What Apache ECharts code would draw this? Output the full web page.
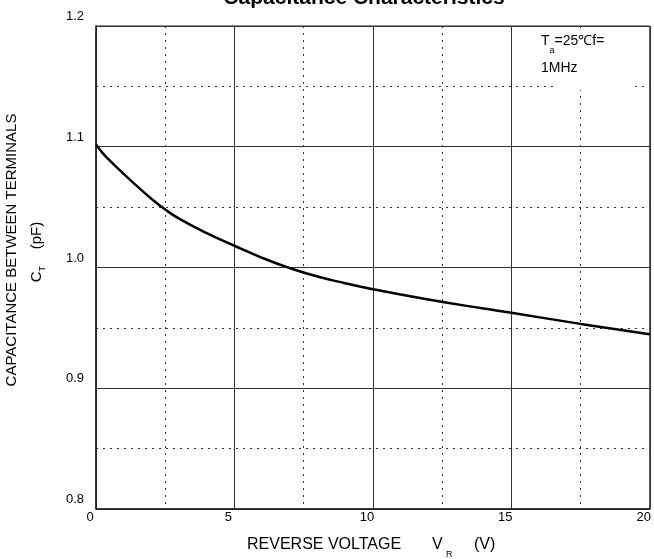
<!DOCTYPE html>
<html><head><meta charset="utf-8">
<script src="https://cdn.jsdelivr.net/npm/echarts@6/dist/echarts.min.js"></script>
<style>html,body{margin:0;padding:0;background:#fff}#c{width:654px;height:559px}</style>
</head><body><div id="c"></div>
<script>
var voltage = [0, 0.25, 0.5, 1, 1.5, 2, 2.5, 3, 4, 5, 6, 7, 8, 9, 10, 12, 14, 15, 17.5, 20];
var capacitance = [1.102, 1.0945, 1.0885, 1.0775, 1.067, 1.057, 1.048, 1.0405, 1.0285, 1.018, 1.008, 0.9995, 0.9925, 0.987, 0.982, 0.9735, 0.966, 0.9625, 0.9533, 0.9447];
var xTicks = [0, 5, 10, 15, 20];
var yTicks = [0.8, 0.9, 1.0, 1.1, 1.2];
var titleText = 'Capacitance Characteristics';

var FONT = '"Liberation Sans", Arial, sans-serif';
var chart = echarts.init(document.getElementById('c'), null, {renderer: 'canvas'});
var pts = voltage.map(function (v, i) { return [v, capacitance[i]]; });
chart.setOption({
  animation: false,
  backgroundColor: '#fff',
  grid: {left: 96, right: 1, top: 26, bottom: 50, show: true, borderColor: '#222', borderWidth: 1},
  xAxis: {
    type: 'value', min: 0, max: 20, interval: 5,
    axisLine: {show: true, lineStyle: {color: '#222', width: 1.5}},
    axisTick: {show: false},
    axisLabel: {fontFamily: FONT, fontSize: 13, color: '#000', margin: 2, padding: [0, 12, 0, 0],
      formatter: function (v) { return xTicks.indexOf(v) >= 0 ? String(v) : ''; }},
    splitLine: {show: true, lineStyle: {color: '#333', width: 1}},
    minorTick: {show: false, splitNumber: 2},
    minorSplitLine: {show: true, lineStyle: {color: '#333', type: [2, 5], width: 1}}
  },
  yAxis: {
    type: 'value', min: 0.8, max: 1.2, interval: 0.1,
    axisLine: {show: true, lineStyle: {color: '#222', width: 1.5}},
    axisTick: {show: false},
    axisLabel: {fontFamily: FONT, fontSize: 13, color: '#000', margin: 12, verticalAlign: 'bottom', padding: [0, 0, 3, 0],
      formatter: function (v) { var r = Math.round(v * 10) / 10; return yTicks.indexOf(r) >= 0 ? r.toFixed(1) : ''; }},
    splitLine: {show: true, lineStyle: {color: '#333', width: 1}},
    minorTick: {show: false, splitNumber: 2},
    minorSplitLine: {show: true, lineStyle: {color: '#333', type: [2, 5], width: 1}}
  },
  graphic: [
    {type: 'text', x: 364, y: -2, z: 11, style: {
      text: titleText, align: 'center', verticalAlign: 'middle', fill: '#000', font: 'bold 21px ' + FONT
    }},
    {type: 'rect', shape: {x: 555, y: 32, width: 80, height: 58}, style: {fill: '#fff'}, z: 10},
    {type: 'text', x: 541, y: 31, z: 11, style: {
      text: '{n|T}{s|a}{n|=25℃f=}', fill: '#000',
      rich: {n: {fontFamily: FONT, fontSize: 14, verticalAlign: 'bottom', lineHeight: 17}, s: {fontFamily: FONT, fontSize: 9, verticalAlign: 'bottom', lineHeight: 10, padding: [0, 0, -7, 0]}}
    }},
    {type: 'text', x: 541, y: 61, z: 11, style: {text: '1MHz', font: '14px ' + FONT, fill: '#000'}},
    {type: 'text', x: 247, y: 545, z: 11, style: {
      text: 'REVERSE VOLTAGE', align: 'left', verticalAlign: 'middle', fill: '#000', font: '16px ' + FONT
    }},
    {type: 'text', x: 432, y: 545, z: 11, style: {
      text: 'V', align: 'left', verticalAlign: 'middle', fill: '#000', font: '16px ' + FONT
    }},
    {type: 'text', x: 446, y: 555, z: 11, style: {
      text: 'R', align: 'left', verticalAlign: 'middle', fill: '#000', font: '9px ' + FONT
    }},
    {type: 'text', x: 474, y: 545, z: 11, style: {
      text: '(V)', align: 'left', verticalAlign: 'middle', fill: '#000', font: '16px ' + FONT
    }},
    {type: 'text', x: 12, y: 250, rotation: Math.PI / 2, z: 11, style: {
      text: 'CAPACITANCE BETWEEN TERMINALS', align: 'center', verticalAlign: 'middle', fill: '#000', font: '15px ' + FONT
    }},
    {type: 'text', x: 37, y: 252, rotation: Math.PI / 2, z: 11, style: {
      text: '{n|C}{s|T}{n|    (pF)}', align: 'center', verticalAlign: 'middle', fill: '#000',
      rich: {n: {fontFamily: FONT, fontSize: 15, lineHeight: 18}, s: {fontFamily: FONT, fontSize: 9, padding: [12, 0, 0, 0]}}
    }}
  ],
  series: [{
    type: 'line', data: pts, smooth: 0.5, showSymbol: false,
    lineStyle: {color: '#000', width: 2.5}, z: 5
  }]
});
</script></body></html>
